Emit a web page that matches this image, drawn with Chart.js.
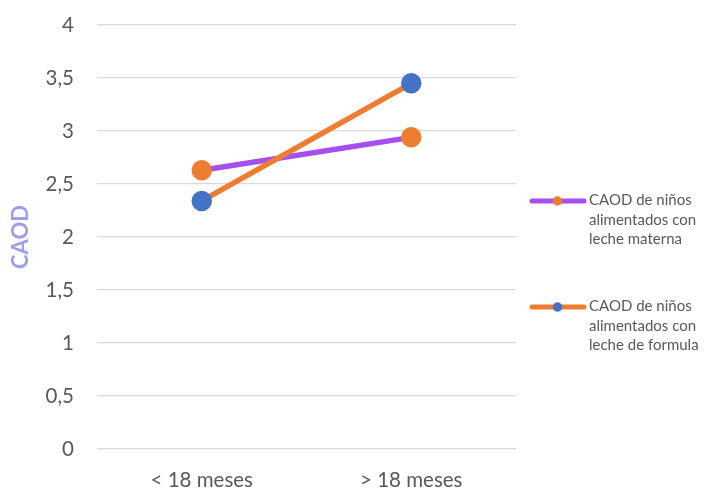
<!DOCTYPE html>
<html>
<head>
<meta charset="utf-8">
<script src="https://cdn.jsdelivr.net/npm/chart.js@4"></script>
<style>
  html, body { margin: 0; padding: 0; background: #fff; }
  #wrap { width: 712px; height: 491px; position: relative; }
</style>
</head>
<body>
<div id="wrap"><canvas id="caodChart"></canvas></div>
<script>
// ================= DATOS =================
const categorias = ["< 18 meses", "> 18 meses"];
const caodMaterna = [2.63, 2.94];
const caodFormula = [2.34, 3.45];
const nombresSeries = [
  ["CAOD de niños", "alimentados con", "leche materna"],
  ["CAOD de niños", "alimentados con", "leche de formula"]
];
const ejeY = { min: 0, max: 4, paso: 0.5, titulo: "CAOD" };

const FONT = "Lato, 'Open Sans', sans-serif";
const GRIS = "#595959";

// ================= LEYENDA =================
// leyenda a la derecha, dibujada en el canvas
const leyendaDerecha = {
  id: "leyendaDerecha",
  afterDraw(chart) {
    const { ctx } = chart;
    const posY = [201, 307];
    ctx.save();
    chart.data.datasets.forEach((ds, i) => {
      const y = posY[i];
      ctx.strokeStyle = ds.borderColor;
      ctx.lineWidth = 5;
      ctx.lineCap = "round";
      ctx.beginPath();
      ctx.moveTo(532, y);
      ctx.lineTo(584, y);
      ctx.stroke();

      ctx.fillStyle = ds.pointBackgroundColor;
      ctx.beginPath();
      ctx.arc(557.5, y, 4.7, 0, Math.PI * 2);
      ctx.fill();

      ctx.fillStyle = GRIS;
      ctx.font = "15px " + FONT;
      ctx.textAlign = "left";
      ctx.textBaseline = "middle";
      nombresSeries[i].forEach((linea, j) => {
        ctx.fillText(linea, 589, y - 1 + j * 19.7);
      });
    });
    ctx.restore();
  }
};

// ================= CHART =================
const ctx = document.getElementById("caodChart").getContext("2d");

new Chart(ctx, {
  type: "line",
  data: {
    labels: categorias,
    datasets: [{
      label: nombresSeries[0].join(" "),
      data: caodMaterna,
      borderColor: "#a64ff0",
      backgroundColor: "#ed7d31",
      pointBackgroundColor: "#ed7d31",
      pointBorderColor: "#ed7d31",
      borderWidth: 5.5,
      pointRadius: 7.5,
      pointHoverRadius: 7.5,
      tension: 0,
      order: 1
    }, {
      label: nombresSeries[1].join(" "),
      data: caodFormula,
      borderColor: "#ed7d31",
      backgroundColor: "#4472c4",
      pointBackgroundColor: "#4472c4",
      pointBorderColor: "#4472c4",
      borderWidth: 5.5,
      pointRadius: 7.5,
      pointHoverRadius: 7.5,
      tension: 0,
      order: 0
    }]
  },
  plugins: [leyendaDerecha],
  options: {
    responsive: true,
    maintainAspectRatio: false,
    animation: false,
    layout: { padding: { top: 25, right: 196, bottom: 0, left: 0 } },
    plugins: {
      legend: { display: false },
      tooltip: { enabled: false }
    },
    scales: {
      x: {
        offset: true,
        grid: { display: false },
        border: { display: false },
        ticks: {
          color: GRIS,
          font: { family: FONT, size: 20.5 },
          padding: 11,
          maxRotation: 0
        },
        afterFit(scale) { scale.height = 42; }
      },
      y: {
        min: ejeY.min,
        max: ejeY.max,
        // marcas invisibles: separan las etiquetas sin agrandar el margen superior
        grid: {
          color: "#d9d9d9",
          lineWidth: 1.3,
          drawTicks: true,
          tickLength: 20,
          tickColor: "rgba(0,0,0,0)"
        },
        border: { display: false },
        ticks: {
          stepSize: ejeY.paso,
          color: GRIS,
          font: { family: FONT, size: 20.5 },
          padding: 3,
          callback: v => String(v).replace(".", ",")
        },
        title: {
          display: true,
          text: ejeY.titulo,
          color: "#9e9ef0",
          font: { family: FONT, size: 22, weight: "bold" },
          padding: { top: 8, bottom: 0 }
        },
        afterFit(scale) { scale.width = 97; }
      }
    }
  }
});
</script>
</body>
</html>
